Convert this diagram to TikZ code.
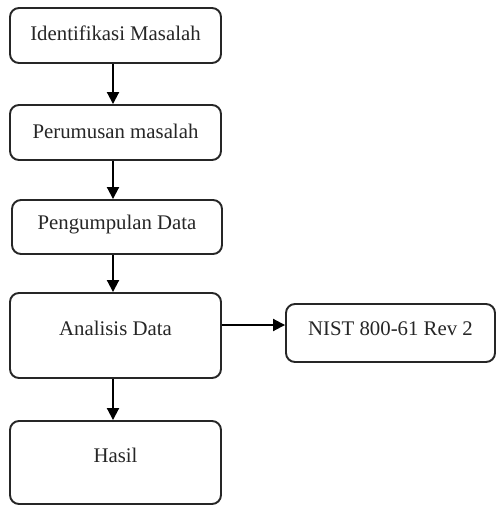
\documentclass[tikz,border=0pt]{standalone}
\usepackage{fontspec}
\setmainfont{Liberation Serif}
\usetikzlibrary{arrows.meta}
\begin{document}
\begin{tikzpicture}[x=1pt,y=-1pt,
  box/.style={draw=black!85,line width=1.9pt,rounded corners=9pt,fill=white,
    minimum width=211pt,inner sep=0pt,font=\fontsize{20.8}{23}\selectfont,text=black!85},
  arr/.style={line width=1.9pt,draw=black,-{Triangle[width=12pt,length=12pt]}}]
\useasboundingbox (0,0) rectangle (497,506);
\node[box,minimum height=55pt] (B1) at (115.5,35.5) {\raisebox{2pt}[\height][\depth]{Identifikasi Masalah}};
\node[box,minimum height=55pt] (B2) at (115.5,132.5) {\raisebox{1pt}[\height][\depth]{Perumusan masalah}};
\node[box,minimum height=54pt,minimum width=210pt] (B3) at (117,227) {\raisebox{2pt}[\height][\depth]{Pengumpulan Data}};
\node[box,minimum height=85pt] (B4) at (115.5,335.5) {\raisebox{7pt}[\height][\depth]{Analisis Data}};
\node[box,minimum height=83pt] (B5) at (115.5,462.5) {\raisebox{7pt}[\height][\depth]{Hasil}};
\node[box,minimum height=58pt,minimum width=209pt] (N) at (390.5,333) {\raisebox{4pt}[\height][\depth]{NIST 800-61 Rev 2}};
\draw[arr] ([xshift=-2.5pt]B1.south) -- ([xshift=-2.5pt]B2.north);
\draw[arr] ([xshift=-2.5pt]B2.south) -- ([xshift=-4pt]B3.north);
\draw[arr] ([xshift=-4pt]B3.south) -- ([xshift=-2.5pt]B4.north);
\draw[arr] ([xshift=-2.5pt]B4.south) -- ([xshift=-2.5pt]B5.north);
\draw[arr] ([yshift=10.5pt]B4.east) -- ([yshift=8pt]N.west);
\end{tikzpicture}
\end{document}
